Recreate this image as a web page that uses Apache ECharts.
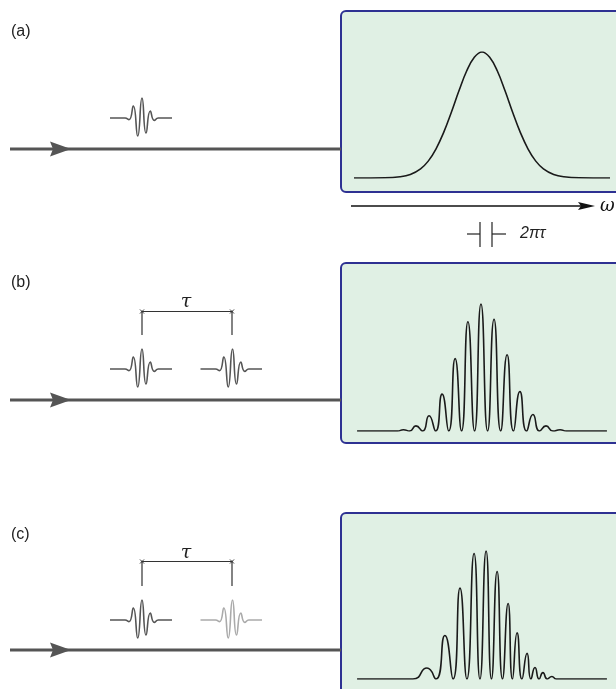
<!DOCTYPE html>
<html>
<head>
<meta charset="UTF-8">
<title>Spectral interference</title>
<style>
  body { margin: 0; background: #fff; }
  #chart { width: 616px; height: 689px; }
</style>
<script src="https://cdn.jsdelivr.net/npm/echarts@6/dist/echarts.min.js"></script>
</head>
<body>
<div id="chart"></div>
<script>
// pulse shape: time relative to main crest, amplitude
var pulseT = [-32, -17, -13, -8.7, -4.3, 0, 4, 8.3, 12.3, 16.3, 30];
var pulseA = [0, 0, -0.08, 0.6, -0.9, 1.0, -0.75, 0.35, -0.12, 0, 0];
var tau = 90.5;

// spectrum (a): single pulse
var specAx = [0, 12, 18, 22, 26, 29, 32, 35, 38, 41, 44, 47, 50, 53, 56, 59, 62, 65, 68, 71, 74, 78, 82, 88, 100];
var specAy = [0, 0.0014, 0.0096, 0.028, 0.073, 0.134, 0.23, 0.36, 0.52, 0.692, 0.849, 0.958, 1.0,
              0.958, 0.849, 0.692, 0.52, 0.36, 0.23, 0.134, 0.073, 0.028, 0.0096, 0.0014, 0];

// spectrum (b): two identical pulses
var specBx = [1.2, 17, 19.3, 21.7, 24.2, 26.8, 29.3, 31.9, 34.4, 37.0, 39.5, 42.0, 44.5, 47.1, 49.6,
              52.2, 54.7, 57.3, 59.8, 62.3, 64.8, 67.4, 69.9, 72.5, 75.0, 77.7, 80.5, 83, 98.8];
var specBy = [0, 0, 0.01, 0, 0.04, 0, 0.12, 0, 0.29, 0, 0.57, 0, 0.86, 0, 1.0,
              0, 0.88, 0, 0.6, 0, 0.31, 0, 0.13, 0, 0.04, 0, 0.01, 0, 0];

// spectrum (c): second pulse chirped
var specCx = [1.2, 23, 28.5, 32.0, 35.5, 38.7, 41.4, 44.1, 46.9, 49.2, 51.6, 53.7, 55.9, 58.0,
              60.2, 61.9, 63.7, 65.6, 67.6, 69.1, 70.7, 72.3, 73.8, 75.5, 77.3, 79, 98.8];
var specCy = [0, 0, 0.086, 0, 0.34, 0, 0.71, 0, 0.98, 0, 1.0, 0, 0.84, 0,
              0.59, 0, 0.36, 0, 0.2, 0, 0.09, 0, 0.05, 0, 0.02, 0, 0];

var panelLabels = ['(a)', '(b)', '(c)'];

function pairs(xs, ys, shift) {
  return xs.map(function (x, i) { return [x + (shift || 0), ys[i]]; });
}

var chart = echarts.init(document.getElementById('chart'));

var specTops = [52, 304, 551];
var specHeights = [126, 127, 128];
var waveTops = [98, 349, 600];

var grids = [], xAxes = [], yAxes = [];
specTops.forEach(function (t, i) {
  grids.push({ left: 354, width: 256, top: t, height: specHeights[i] });
  xAxes.push({ type: 'value', gridIndex: i, min: 0, max: 100, show: false });
  yAxes.push({ type: 'value', gridIndex: i, min: 0, max: 1, show: false });
});
waveTops.forEach(function (t, i) {
  grids.push({ left: 100, width: 160, top: t, height: 40 });
  xAxes.push({ type: 'value', gridIndex: 3 + i, min: -42, max: 118, show: false });
  yAxes.push({ type: 'value', gridIndex: 3 + i, min: -1, max: 1, show: false });
});

function specSeries(idx, data, sm) {
  return {
    type: 'line', xAxisIndex: idx, yAxisIndex: idx, data: data,
    smooth: sm, showSymbol: false, z: 5,
    lineStyle: { color: '#1a1a1a', width: 1.6 }
  };
}
function pulseSeries(idx, shift, color) {
  return {
    type: 'line', xAxisIndex: idx, yAxisIndex: idx, data: pairs(pulseT, pulseA, shift),
    smooth: 0.55, showSymbol: false, z: 5,
    lineStyle: { color: color, width: 1.6 }
  };
}

var series = [
  specSeries(0, pairs(specAx, specAy), 0.4),
  specSeries(1, pairs(specBx, specBy), 0.6),
  specSeries(2, pairs(specCx, specCy), 0.6),
  pulseSeries(3, 0, '#555'),
  pulseSeries(4, 0, '#555'),
  pulseSeries(4, tau, '#555'),
  pulseSeries(5, 0, '#555'),
  pulseSeries(5, tau, '#aaa')
];

// decorations: boxes, beams, brackets, labels
var g = [];
var boxes = [[11, 181], [263, 180], [513, 200]];
boxes.forEach(function (b) {
  g.push({ type: 'rect', z: 0, shape: { x: 341, y: b[0], width: 300, height: b[1], r: 5 },
           style: { fill: '#e0f0e4', stroke: '#2e3192', lineWidth: 2 } });
});
var beamY = [149, 400, 650];
beamY.forEach(function (y) {
  g.push({ type: 'line', shape: { x1: 10, y1: y, x2: 341, y2: y }, style: { stroke: '#555', lineWidth: 3 } });
  g.push({ type: 'polygon', shape: { points: [[50, y - 7.5], [71, y], [50, y + 7.5], [53, y]] },
           style: { fill: '#555' } });
});
var labelY = [32, 283, 535];
panelLabels.forEach(function (s, i) {
  g.push({ type: 'text', x: 11, y: labelY[i],
           style: { text: s, font: '16px "Liberation Sans", Arial, sans-serif', fill: '#222', verticalAlign: 'middle' } });
});
// delay brackets
[[311.5, 335, 302], [561.5, 586, 553]].forEach(function (b) {
  var x1 = 142, x2 = 232;
  g.push({ type: 'polyline', shape: { points: [[x1, b[1]], [x1, b[0]], [x2, b[0]], [x2, b[1]]] },
           style: { stroke: '#333', lineWidth: 1.2, fill: null } });
  [x1, x2].forEach(function (x) {
    g.push({ type: 'line', shape: { x1: x - 2, y1: b[0] - 2, x2: x + 2, y2: b[0] + 2 }, style: { stroke: '#333', lineWidth: 1 } });
    g.push({ type: 'line', shape: { x1: x - 2, y1: b[0] + 2, x2: x + 2, y2: b[0] - 2 }, style: { stroke: '#333', lineWidth: 1 } });
  });
  g.push({ type: 'text', x: 186, y: b[2],
           style: { text: 'τ', font: 'italic 19px "DejaVu Serif", serif', fill: '#222', align: 'center', verticalAlign: 'middle' } });
});
// frequency axis
g.push({ type: 'line', shape: { x1: 351, y1: 206, x2: 584, y2: 206 }, style: { stroke: '#111', lineWidth: 1.6 } });
g.push({ type: 'polygon', shape: { points: [[578, 202], [595, 206], [578, 210], [581, 206]] }, style: { fill: '#111' } });
g.push({ type: 'text', x: 600, y: 206,
         style: { text: 'ω', font: 'italic 18px "DejaVu Serif", serif', fill: '#111', verticalAlign: 'middle' } });
// fringe spacing marker
g.push({ type: 'line', shape: { x1: 467, y1: 234, x2: 480, y2: 234 }, style: { stroke: '#222', lineWidth: 1.2 } });
g.push({ type: 'line', shape: { x1: 480, y1: 222, x2: 480, y2: 247 }, style: { stroke: '#222', lineWidth: 1.2 } });
g.push({ type: 'line', shape: { x1: 492, y1: 222, x2: 492, y2: 247 }, style: { stroke: '#222', lineWidth: 1.2 } });
g.push({ type: 'line', shape: { x1: 492, y1: 234, x2: 506, y2: 234 }, style: { stroke: '#222', lineWidth: 1.2 } });
g.push({ type: 'text', x: 520, y: 234,
         style: { text: '2πτ', font: 'italic 16px "Liberation Sans", Arial, sans-serif', fill: '#222', verticalAlign: 'middle' } });

chart.setOption({
  animation: false,
  backgroundColor: '#fff',
  grid: grids,
  xAxis: xAxes,
  yAxis: yAxes,
  series: series,
  graphic: { elements: g }
});
</script>
</body>
</html>
